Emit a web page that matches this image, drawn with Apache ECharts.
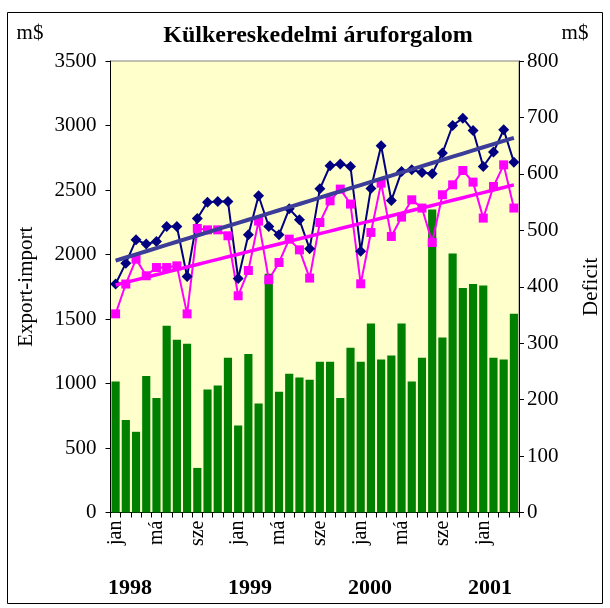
<!DOCTYPE html>
<html>
<head>
<meta charset="utf-8">
<script src="https://cdn.jsdelivr.net/npm/echarts@6/dist/echarts.min.js"></script>
<style>html,body{margin:0;padding:0;background:#fff}#c{width:610px;height:608px}</style>
</head>
<body>
<div id="c"></div>
<script>
// Month tick labels (40 months, Jan 1998 - Apr 2001)
const monthLabels = [
  'jan','','','','má','','','','sze','','','',
  'jan','','','','má','','','','sze','','','',
  'jan','','','','má','','','','sze','','','',
  'jan','','',''
];
const years = ['1998','1999','2000','2001'];
// Import (navy diamonds), m$
const importVals = [1771,1933,2114,2081,2101,2217,2217,1830,2279,2406,2411,2411,
  1814,2153,2455,2217,2153,2354,2269,2044,2509,2688,2701,2682,
  2026,2512,2843,2419,2643,2657,2636,2626,2786,3000,3057,2961,
  2682,2794,2967,2716];
// Export (magenta squares), m$
const exportVals = [1540,1771,1964,1835,1899,1899,1912,1540,2202,2191,2191,2145,
  1680,1876,2259,1804,1938,2119,2036,1817,2248,2416,2507,2391,
  1773,2171,2553,2140,2290,2424,2360,2093,2463,2540,2651,2561,
  2282,2527,2695,2360];
// Deficit (green bars), m$ (right axis)
const deficitVals = [232,164,143,242,203,331,306,299,79,218,225,274,
  154,281,193,423,214,246,239,235,267,267,203,292,
  267,335,271,278,335,232,274,537,310,459,398,405,
  402,274,271,352];
const leftTicks = {min:0, max:3500, interval:500};
const rightTicks = {min:0, max:800, interval:100};

function linTrend(arr){
  const n = arr.length; let sx=0, sy=0, sxx=0, sxy=0;
  arr.forEach((v,i)=>{sx+=i; sy+=v; sxx+=i*i; sxy+=i*v;});
  const b = (n*sxy - sx*sy)/(n*sxx - sx*sx);
  const a = (sy - b*sx)/n;
  return arr.map((v,i)=>a+b*i);
}

const FONT = 'Liberation Serif';
const chart = echarts.init(document.getElementById('c'));
chart.setOption({
  animation:false,
  backgroundColor:'#fff',
  title:{
    text:'Külkereskedelmi áruforgalom', left:313, top:19, textAlign:'center',
    textStyle:{fontFamily:FONT, fontWeight:'bold', fontSize:24, color:'#000'}
  },
  grid:{left:110.5, right:83, top:61, bottom:95.5, show:true, backgroundColor:'#FFFFCC', borderColor:'#808080', borderWidth:1},
  xAxis:{
    type:'category', data:monthLabels, boundaryGap:true,
    axisLine:{lineStyle:{color:'#000', width:1}},
    axisTick:{show:true, interval:0, length:5, lineStyle:{color:'#000'}},
    axisLabel:{interval:0, rotate:90, margin:8, fontFamily:FONT, fontSize:20, color:'#000'}
  },
  yAxis:[{
    type:'value', min:leftTicks.min, max:leftTicks.max, interval:leftTicks.interval,
    name:'Export-import', nameLocation:'middle', nameRotate:90, nameGap:74,
    nameTextStyle:{fontFamily:FONT, fontSize:21, color:'#000'},
    axisLine:{show:true, lineStyle:{color:'#000'}},
    axisTick:{show:true, length:5, lineStyle:{color:'#000'}},
    splitLine:{show:false},
    axisLabel:{margin:14, fontFamily:FONT, fontSize:21, color:'#000', formatter:v=>String(v)}
  },{
    type:'value', min:rightTicks.min, max:rightTicks.max, interval:rightTicks.interval,
    position:'right',
    name:'Deficit', nameLocation:'middle', nameRotate:90, nameGap:62,
    nameTextStyle:{fontFamily:FONT, fontSize:21, color:'#000'},
    axisLine:{show:true, lineStyle:{color:'#000'}},
    axisTick:{show:true, length:5, lineStyle:{color:'#000'}},
    splitLine:{show:false},
    axisLabel:{margin:8, fontFamily:FONT, fontSize:21, color:'#000', formatter:v=>String(v)}
  }],
  series:[
    {type:'bar', yAxisIndex:1, data:deficitVals, barCategoryGap:'20%',
     itemStyle:{color:'#008000'}, z:1},
    {type:'line', yAxisIndex:0, data:importVals, symbol:'diamond', symbolSize:11,
     lineStyle:{color:'#000080', width:2}, itemStyle:{color:'#000080'}, z:3},
    {type:'line', yAxisIndex:0, data:exportVals, symbol:'rect', symbolSize:9,
     lineStyle:{color:'#FF00FF', width:2}, itemStyle:{color:'#FF00FF'}, z:3},
    {type:'line', yAxisIndex:0, data:linTrend(importVals), symbol:'none',
     lineStyle:{color:'#3C3C99', width:4}, z:4},
    {type:'line', yAxisIndex:0, data:linTrend(exportVals), symbol:'none',
     lineStyle:{color:'#FF00FF', width:3.5}, z:4}
  ],
  graphic:[
    {type:'rect', shape:{x:7.5, y:12.5, width:595, height:591}, style:{fill:'none', stroke:'#000', lineWidth:1}, silent:true},
    {type:'text', x:30, y:33, style:{text:'m$', fontFamily:FONT, fontSize:21, fill:'#000', align:'center', verticalAlign:'middle'}},
    {type:'text', x:575, y:33, style:{text:'m$', fontFamily:FONT, fontSize:21, fill:'#000', align:'center', verticalAlign:'middle'}}
  ].concat(years.map((y,k)=>({type:'text', x:130+120*k, y:588,
     style:{text:y, fontFamily:FONT, fontSize:22, fontWeight:'bold', fill:'#000', align:'center', verticalAlign:'middle'}})))
});
</script>
</body>
</html>
